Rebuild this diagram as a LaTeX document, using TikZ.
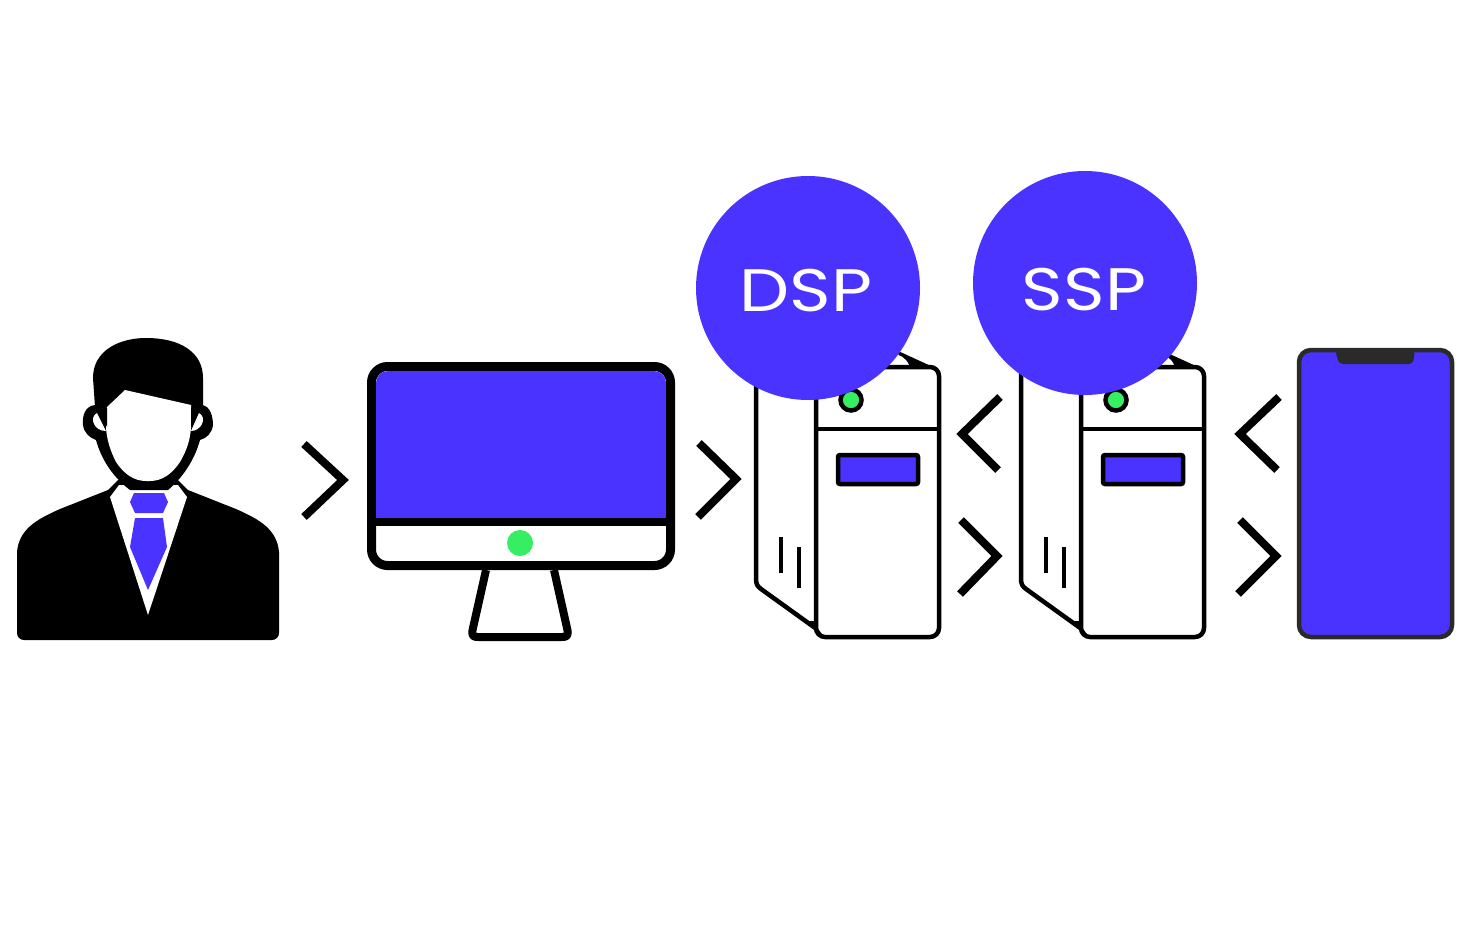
\documentclass[tikz,border=0pt]{standalone}
\usepackage{fontspec}
\setmainfont{Poppins}
\newfontfamily\badgefont[FakeStretch=1.18]{Poppins}
\definecolor{brand}{HTML}{4A33FF}
\definecolor{led}{HTML}{35EE62}
\definecolor{phoneedge}{HTML}{2A2A2A}
\tikzset{
  x=1pt,y=-1pt,
  chevron/.style={draw=black,line width=8pt,line join=miter,line cap=butt},
  outline/.style={draw=black,line width=4.5pt,line join=round},
  badge/.style={circle,fill=brand,minimum size=224pt,inner sep=0pt},
  badgetext/.style={inner sep=0pt,text=white,font=\badgefont\fontsize{60}{60}\selectfont},
}
\newcommand{\towerdraw}{%
  \fill[white] (0,365) -- (0,578) -- (5,589) -- (62,628) -- (62,365) -- cycle;
  \draw[outline] (0,365) -- (0,578) .. controls (0,584) and (1,586) .. (5,589) -- (62,630);
  \fill[black] (140,350) -- (177,367) -- (150,368) -- cycle;
  \fill[white] (135,354) .. controls (144,354) and (150,358) .. (153,365) -- (120,367) -- cycle;
  \draw[outline,fill=white,rounded corners=9pt] (60,367) -- (183,367) -- (183,637) -- (60,637) -- cycle;
  \draw[outline] (60,429) -- (183,429);
  \fill[black] (50,621) -- (60,621) -- (60,626) -- (68,637) -- cycle;
  \draw[line width=4.5pt,fill=brand,rounded corners=2pt] (82,455) rectangle (162,484);
  \draw[line width=4.5pt,fill=led] (95,400) circle (10.5pt);
  \draw[line width=4.5pt] (25,537) -- (25,573);
  \draw[line width=4.5pt] (43,547) -- (43,588);
}
\begin{document}
\begin{tikzpicture}
\useasboundingbox (0,0) rectangle (1474,942);
\fill[white] (0,0) rectangle (1474,942);

% person
\fill[black,rounded corners=7pt] (17,640) -- (17,570) [sharp corners] -- (17,552) .. controls (19,530) and (35,520) .. (60,509) -- (108,490) -- (118,480) -- (178,480) -- (188,490) -- (236,509) .. controls (261,520) and (277,530) .. (279,552) [rounded corners=7pt] -- (279,570) -- (279,640) -- cycle;
\fill[white] (110,497) -- (119,485) -- (178,485) -- (187,497) -- (148,615) -- cycle;
\fill[black] (93,378) .. controls (93,350) and (120,338) .. (146,338) .. controls (180,338) and (203,352) .. (203,378) -- (203,407) -- (193,410) -- (100,410) -- (95,407) -- cycle;
\fill[black] (95,405) .. controls (85,406) and (82,416) .. (83,425) .. controls (84,433) and (90,438) .. (96,440) .. controls (100,455) and (110,475) .. (130,490) -- (168,490) .. controls (186,475) and (196,455) .. (200,440) .. controls (207,438) and (212,433) .. (213,425) .. controls (213,416) and (210,406) .. (202,405) -- cycle;
\fill[white] (107,407) -- (125,390) -- (147,395) -- (191,405) -- (191,428) .. controls (190,440) and (187,450) .. (180,462) .. controls (172,474) and (162,481) .. (150,481) -- (146,481) .. controls (134,481) and (124,474) .. (116,462) .. controls (110,450) and (107,440) .. (106,428) -- cycle;
\fill[white] (97,413) .. controls (93,415) and (92,420) .. (94,424) .. controls (96,428) and (100,431) .. (106,431) -- cycle;
\fill[white] (199,413) .. controls (203,415) and (204,420) .. (202,424) .. controls (200,428) and (196,431) .. (191,431) -- cycle;
\fill[black] (99,408) -- (107,408) -- (107,427) -- cycle;
\fill[black] (198,408) -- (191,408) -- (191,427) -- cycle;
\fill[brand] (134,493) -- (164,493) -- (168,502) -- (163,513) -- (135,513) -- (130,502) -- cycle;
\fill[brand] (135,518) -- (163,518) -- (167,547) -- (148,590) -- (130,547) -- cycle;

% monitor
\draw[line width=8pt,fill=white,line join=round] (486,570) -- (473,628) .. controls (471,636) and (473,637) .. (478,637) -- (562,637) .. controls (567,637) and (569,636) .. (567,628) -- (554,570);
\draw[line width=9pt,fill=white,rounded corners=16pt] (371.5,366.5) rectangle (670.5,565.5);
\begin{scope}
\clip[rounded corners=12pt] (376,371) rectangle (666,561);
\fill[brand] (376,371) rectangle (666,518);
\end{scope}
\draw[line width=8pt] (371.5,522) -- (670.5,522);
\fill[led] (520,543) circle (13pt);

% towers
\begin{scope}[shift={(756,0)}]\towerdraw\end{scope}
\begin{scope}[shift={(1021,0)}]\towerdraw\end{scope}

% phone
\draw[line width=4.5pt,draw=phoneedge,fill=brand,rounded corners=12pt] (1299,350) rectangle (1452,637);
\fill[phoneedge,rounded corners=4pt] (1335,350) -- (1415,350) -- (1413,364) -- (1339,364) -- cycle;

% chevrons
\draw[chevron] (304,444) -- (343,480) -- (304,517);
\draw[chevron] (699,443) -- (736,479) -- (698,517);
\draw[chevron] (1000,397) -- (962,434) -- (998,470);
\draw[chevron] (961,520) -- (997,556) -- (960,594);
\draw[chevron] (1279,397) -- (1240,434) -- (1277,470);
\draw[chevron] (1240,520) -- (1276,556) -- (1238,594);

% badges
\node[badge] (dsp) at (808,288) {};
\node[badge] (ssp) at (1085,283) {};
\node[badgetext] (dsptext) at (806,291) {DSP};
\node[badgetext] (ssptext) at (1084,290) {SSP};
\end{tikzpicture}
\end{document}
